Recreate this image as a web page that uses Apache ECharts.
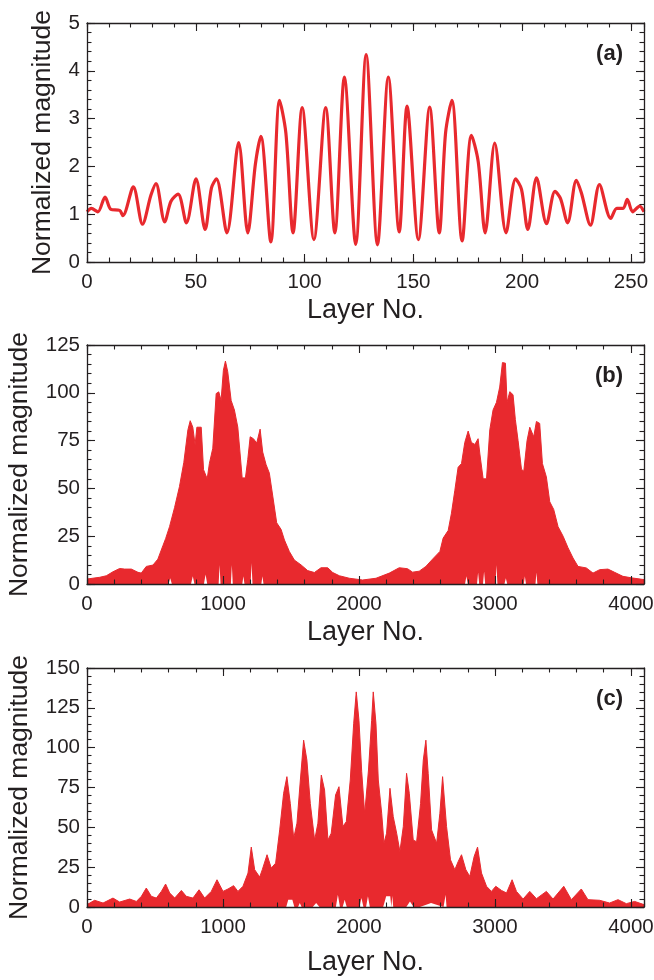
<!DOCTYPE html>
<html><head><meta charset="utf-8">
<script src="https://cdn.jsdelivr.net/npm/echarts@6/dist/echarts.min.js"></script>
<style>html,body{margin:0;padding:0;background:#fff}#chart{width:654px;height:980px}</style>
</head><body><div id="chart"></div>
<script>
// ---------- Panel (a) ----------
const aLayer = [0,2,5,8.3,11,15,16.5,21.3,25.5,29.4,31.7,35.7,38.6,41.9,45.7,50.1,54.3,57.2,59.5,64.3,69.7,73.9,77.4,79.9,84.5,88.5,91.4,94.7,98.9,104.3,109.7,113.9,118.3,123.5,128.3,133.5,138.5,143.5,147.1,152.3,157.5,161.9,164.8,167.7,172.4,176.7,179.8,183,187.4,192.6,197,199.7,202.6,206.6,211.2,215.1,217.6,220.9,224.9,227.2,231.4,235.5,240.7,243.5,246.4,248.3,250.8,254,256];
const aMag   = [1.05,1.12,1.05,1.36,1.1,1.08,0.97,1.57,0.79,1.4,1.64,0.84,1.27,1.42,0.82,1.74,0.68,1.55,1.74,0.61,2.5,0.61,2.05,2.63,0.42,3.38,2.7,0.61,3.23,0.47,3.23,0.61,3.87,0.37,4.34,0.36,3.87,0.63,3.26,0.47,3.24,0.61,2.7,3.38,0.44,2.65,2.1,0.61,2.49,0.61,1.74,1.52,0.68,1.76,0.8,1.48,1.33,0.82,1.71,1.45,0.77,1.62,0.91,1.12,1.12,1.31,1.05,1.17,1.05];

// ---------- Panel (b): upper envelope of the dense oscillation ----------
const bLayer = [0,93,142,191,240,277,326,375,399,436,485,521,558,578,607,644,680,712,742,759,778,795,808,840,857,884,900,925,950,969,986,1003,1018,1035,1060,1084,1109,1126,1141,1165,1182,1200,1224,1248,1273,1292,1317,1341,1366,1395,1427,1452,1488,1525,1574,1623,1672,1721,1770,1807,1856,1929,2027,2125,2223,2296,2357,2394,2443,2492,2541,2595,2619,2656,2680,2705,2729,2754,2778,2803,2827,2852,2876,2889,2913,2938,2962,2986,3011,3035,3055,3077,3089,3109,3133,3150,3170,3195,3212,3236,3256,3285,3305,3329,3349,3378,3403,3432,3464,3501,3537,3574,3611,3672,3721,3770,3831,3880,3941,4015,4096];
const bMag   = [2.6,3.5,4.3,6.4,8.1,7.8,7.8,6.1,5.7,9.2,9.9,13,20,23.7,30,40,51,63.6,80.6,85.4,82,72.8,82,82,59.8,55,63,71,99.6,100.5,96,111.8,116.6,111,96,91,82,68,55.5,55.5,65,77,76,73.7,81,69,62.4,58,46,32,28.6,23,17,12.5,10,7,6,8.5,8.5,6,4.3,3,2.1,3,5.7,8.5,8,6.2,6.7,9.2,13,17,24,28,37,49,61,63,74,80,74,73,76,68,55,55,80.6,91,95,103,115.8,115.5,95,100.6,99,86,75,60,59,75,82,77,85,84,63,56,43,39,30,25,19,13.6,9.2,8.4,5.7,7.5,7.8,6.1,4,3.1,2.3];
// lower envelope (gaps left uncovered near the axis)
const bLowLayer = [0,600,612,624,765,778,790,860,872,884,968,975,982,1058,1065,1072,1142,1150,1158,1203,1210,1217,1282,1290,1298,2780,2790,2800,2868,2876,2884,2912,2920,2928,3004,3011,3018,3070,3080,3090,3212,3220,3228,3298,3305,3312,4096];
const bLowMag   = [0,0,3,0,0,4,0,0,5,0,0,10,0,0,10,0,0,4,0,0,11,0,0,4,0,0,4,0,0,6,0,0,6.6,0,0,10,0,0,3,0,0,4,0,0,6,0,0];

// ---------- Panel (c): upper envelope ----------
const cLayer = [0,56,118,191,240,314,363,400,436,473,510,547,578,608,645,694,730,779,824,865,914,956,1000,1037,1078,1110,1147,1184,1208,1233,1270,1289,1324,1355,1387,1417,1446,1470,1495,1520,1544,1569,1593,1617,1642,1674,1698,1723,1747,1772,1796,1828,1853,1882,1907,1936,1961,1980,2000,2020,2042,2070,2093,2105,2125,2142,2167,2184,2203,2228,2252,2277,2301,2326,2350,2370,2399,2424,2453,2473,2492,2509,2534,2571,2595,2615,2644,2673,2705,2730,2754,2786,2815,2847,2872,2901,2938,2974,3006,3048,3085,3126,3158,3207,3256,3305,3378,3427,3506,3562,3635,3684,3770,3843,3905,3966,4027,4096];
const cMag   = [1.5,4.2,2.5,5.6,3.1,5,3.5,6.7,11.9,6.7,5.6,9.8,14.4,8.8,5.6,10.4,6.7,5.6,10.8,5.6,9.8,17.1,9.8,11.3,13.4,9.8,13,21.3,37.6,23.4,18.8,23.4,32.8,24.4,27.5,48.4,71.4,81.8,65,43.2,52.6,79.7,104.7,92.2,65,42,52.6,82.8,73.4,42,46.3,70.3,75.5,50.5,53.6,79.7,115,135,117,85,58.5,86,117,135,115,79.7,58.8,40,46.3,74.5,56.7,46.3,34.8,50.5,83.9,71.4,42,41,65,92.2,104.7,83.9,48.4,40,58.8,81.8,50.5,29.6,23.4,28.6,32.8,23.4,19.2,31.7,37.6,21.3,13,9.8,13,10.4,8.8,17.1,9.8,5,9.8,5.2,9.8,5,13,4.6,11.3,4.6,4.2,2.5,4.6,2.1,3.5,1.5];
const cLowLayer = [0,1465,1480,1510,1525,1552,1565,1578,1660,1685,1710,1830,1845,1860,1880,1895,1910,2003,2018,2033,2052,2066,2080,2178,2200,2230,2238,2245,2252,2348,2375,2402,2448,2530,2622,2630,2637,2644,4096];
const cLowMag   = [0,0,4.6,4.6,0,0,2.5,0,0,2.5,0,0,7.7,0,0,4.6,0,0,5.6,0,0,6.7,0,0,6.7,6.7,0,7,0,0,3.5,0,0,2.5,0,0,7.7,0,0];

// ---------- tick labels ----------
const aXTicks = [0,50,100,150,200,250];
const aYTicks = [0,1,2,3,4,5];
const bXTicks = [0,1000,2000,3000,4000];
const bYTicks = [0,25,50,75,100,125];
const cXTicks = [0,1000,2000,3000,4000];
const cYTicks = [0,25,50,75,100,125,150];
const panelLabels = ['(a)','(b)','(c)'];
const xTitle = 'Layer No.';
const yTitle = 'Normalized magnitude';

const FONT = '"Liberation Sans", Arial, Helvetica, sans-serif';
const INK = '#231f20';
const RED = '#e8292e';
const zip = (xs, ys) => xs.map((x, i) => [x, ys[i]]);

const panels = [
  {top:23,  xMax:256,  xMaj:50,   xMin:10,  yMax:5,   yMaj:1,  yMin:0.2, xT:aXTicks, yT:aYTicks, xGap:35, yGap:31},
  {top:345, xMax:4096, xMaj:1000, xMin:200, yMax:125, yMaj:25, yMin:5,   xT:bXTicks, yT:bYTicks, xGap:35, yGap:54},
  {top:668, xMax:4096, xMaj:1000, xMin:200, yMax:150, yMaj:25, yMin:5,   xT:cXTicks, yT:cYTicks, xGap:42, yGap:54},
];

const grid = [], xAxis = [], yAxis = [], title = [];
const lineStyle = {color: INK, width: 1.3};
const tickStyle = {color: INK, width: 1.1};
panels.forEach((p, g) => {
  grid.push({left: 87, right: 10, top: p.top, height: 239, containLabel: false, outerBoundsMode: 'none'});
  const base = {type: 'value', gridIndex: g, z: 5, splitLine: {show: false}};
  xAxis.push(Object.assign({}, base, {position: 'bottom', min: 0, max: p.xMax, interval: p.xMaj,
    axisLine: {show: true, onZero: false, lineStyle},
    axisTick: {show: true, inside: true, length: 8, lineStyle: tickStyle},
    axisLabel: {show: true, interval: 0, margin: 10, fontSize: 20.5, color: INK, fontFamily: FONT,
      formatter: v => p.xT.includes(v) ? String(v) : ''},
    name: xTitle, nameLocation: 'middle', nameGap: p.xGap,
    nameTextStyle: {fontSize: 27, color: INK, fontFamily: FONT}}));
  xAxis.push(Object.assign({}, base, {position: 'bottom', min: 0, max: p.xMax, interval: p.xMin,
    axisLine: {show: false, onZero: false}, axisTick: {show: true, inside: true, length: 4.5, lineStyle: tickStyle},
    axisLabel: {show: false}}));
  xAxis.push(Object.assign({}, base, {position: 'top', min: 0, max: p.xMax, interval: p.xMaj,
    axisLine: {show: true, onZero: false, lineStyle},
    axisTick: {show: true, inside: true, length: 8, lineStyle: tickStyle}, axisLabel: {show: false}}));
  xAxis.push(Object.assign({}, base, {position: 'top', min: 0, max: p.xMax, interval: p.xMin,
    axisLine: {show: false, onZero: false}, axisTick: {show: true, inside: true, length: 4.5, lineStyle: tickStyle},
    axisLabel: {show: false}}));
  yAxis.push(Object.assign({}, base, {position: 'left', min: 0, max: p.yMax, interval: p.yMaj,
    axisLine: {show: true, onZero: false, lineStyle},
    axisTick: {show: true, inside: true, length: 8, lineStyle: tickStyle},
    axisLabel: {show: true, interval: 0, margin: 7, fontSize: 20.5, color: INK, fontFamily: FONT,
      formatter: v => p.yT.includes(v) ? String(v) : ''},
    name: yTitle, nameLocation: 'middle', nameGap: p.yGap,
    nameTextStyle: {fontSize: 26.5, color: INK, fontFamily: FONT}}));
  yAxis.push(Object.assign({}, base, {position: 'left', min: 0, max: p.yMax, interval: p.yMin,
    axisLine: {show: false, onZero: false}, axisTick: {show: true, inside: true, length: 4.5, lineStyle: tickStyle},
    axisLabel: {show: false}}));
  yAxis.push(Object.assign({}, base, {position: 'right', min: 0, max: p.yMax, interval: p.yMaj,
    axisLine: {show: true, onZero: false, lineStyle},
    axisTick: {show: true, inside: true, length: 8, lineStyle: tickStyle}, axisLabel: {show: false}}));
  yAxis.push(Object.assign({}, base, {position: 'right', min: 0, max: p.yMax, interval: p.yMin,
    axisLine: {show: false, onZero: false}, axisTick: {show: true, inside: true, length: 4.5, lineStyle: tickStyle},
    axisLabel: {show: false}}));
  title.push({text: panelLabels[g], right: 31, top: p.top + 20, padding: 0,
    textStyle: {fontSize: 22, fontWeight: 'bold', color: INK, fontFamily: FONT}});
});

const series = [
  {type: 'line', xAxisIndex: 0, yAxisIndex: 0, data: zip(aLayer, aMag), smooth: 0.3,
   showSymbol: false, lineStyle: {color: RED, width: 3.2}, z: 2},
  {type: 'line', xAxisIndex: 4, yAxisIndex: 4, data: zip(bLayer, bMag), showSymbol: false,
   lineStyle: {color: RED, width: 1}, areaStyle: {color: RED, opacity: 1}, z: 2},
  {type: 'line', xAxisIndex: 4, yAxisIndex: 4, data: zip(bLowLayer, bLowMag), showSymbol: false,
   lineStyle: {width: 0}, areaStyle: {color: '#ffffff', opacity: 1}, z: 3},
  {type: 'line', xAxisIndex: 8, yAxisIndex: 8, data: zip(cLayer, cMag), showSymbol: false,
   lineStyle: {color: RED, width: 1}, areaStyle: {color: RED, opacity: 1}, z: 2},
  {type: 'line', xAxisIndex: 8, yAxisIndex: 8, data: zip(cLowLayer, cLowMag), showSymbol: false,
   lineStyle: {width: 0}, areaStyle: {color: '#ffffff', opacity: 1}, z: 3},
];

const chart = echarts.init(document.getElementById('chart'), null, {renderer: 'canvas'});
chart.setOption({animation: false, backgroundColor: '#ffffff', title, grid, xAxis, yAxis, series});
</script></body></html>
